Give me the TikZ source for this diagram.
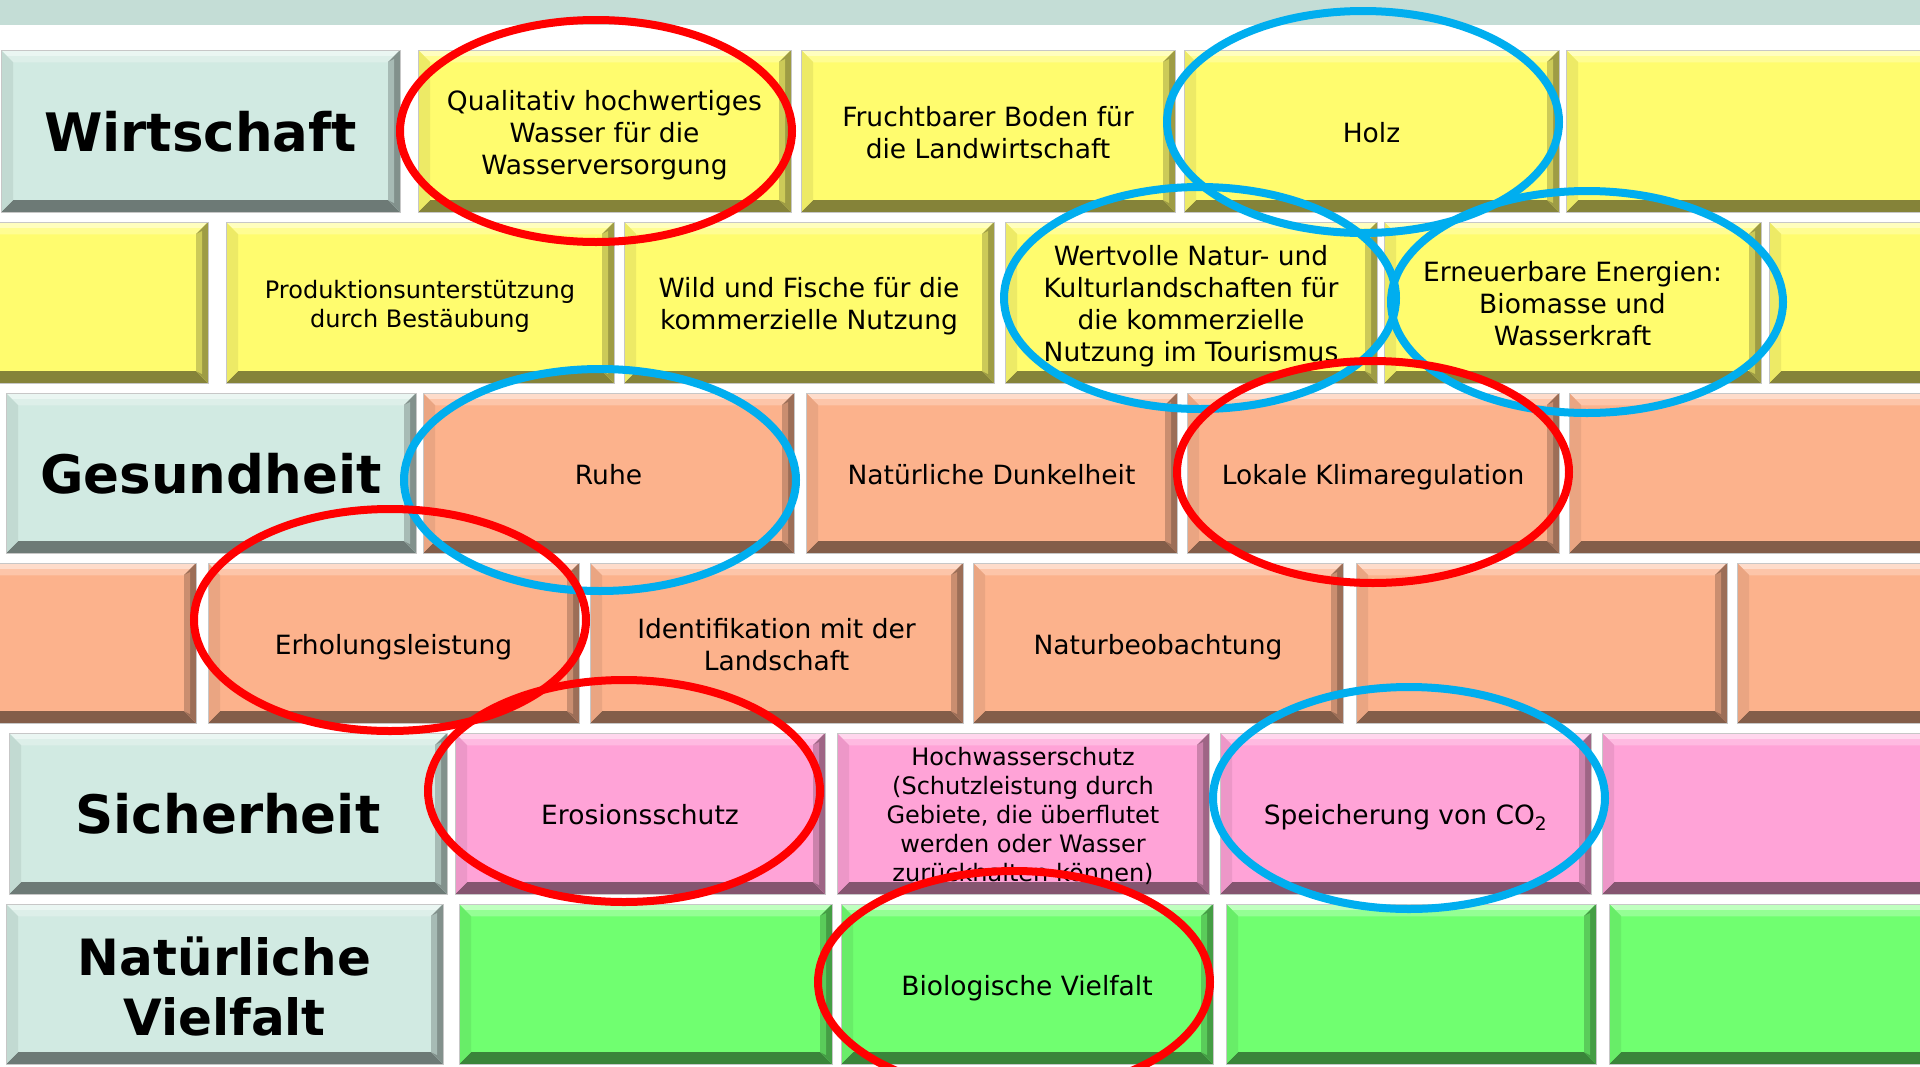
\documentclass[tikz,border=0pt]{standalone}
\usepackage{fontspec}
\setmainfont{DejaVu Sans}
\usetikzlibrary{shapes.geometric}
\definecolor{cyel}{HTML}{FFFC6E}
\definecolor{csal}{HTML}{FCB28C}
\definecolor{cpink}{HTML}{FFA3D7}
\definecolor{cgrn}{HTML}{70FF70}
\definecolor{cmint}{HTML}{D1EAE2}
\definecolor{cband}{HTML}{C4DDD6}
\definecolor{cred}{HTML}{FF0000}
\definecolor{cblue}{HTML}{00AEEF}
% name, brick style, text style, x1, x2, y1, y2, text
\newcommand\brk[8]{%
  \node[#2, minimum width={(#5-#4)*1pt}, minimum height={(#7-#6)*1pt}] (#1) at ({(#4+#5)/2},{(#6+#7)/2}) {};
  \node[#3] (#1t) at (#1.center) {\strut#8\strut};}
\tikzset{
  brick/.style={fill=#1, draw=black!22, line width=1pt, inner sep=0pt, outer sep=0pt,
    path picture={
      \fill[#1!45!white] (path picture bounding box.north west) -- (path picture bounding box.north east)
        -- ([shift={(-12pt,-12pt)}]path picture bounding box.north east) -- ([shift={(12pt,-12pt)}]path picture bounding box.north west) -- cycle;
      \fill[#1!75!white] ([shift={(0pt,-6pt)}]path picture bounding box.north west) -- ([shift={(0pt,-6pt)}]path picture bounding box.north east)
        -- ([shift={(-12pt,-12pt)}]path picture bounding box.north east) -- ([shift={(12pt,-12pt)}]path picture bounding box.north west) -- cycle;
      \fill[#1!52!black] (path picture bounding box.south west) -- (path picture bounding box.south east)
        -- ([shift={(-12pt,12pt)}]path picture bounding box.south east) -- ([shift={(12pt,12pt)}]path picture bounding box.south west) -- cycle;
      \fill[#1!93!black] (path picture bounding box.north west) -- (path picture bounding box.south west)
        -- ([shift={(12pt,12pt)}]path picture bounding box.south west) -- ([shift={(12pt,-12pt)}]path picture bounding box.north west) -- cycle;
      \fill[#1!62!black] (path picture bounding box.north east) -- (path picture bounding box.south east)
        -- ([shift={(-12pt,12pt)}]path picture bounding box.south east) -- ([shift={(-12pt,-12pt)}]path picture bounding box.north east) -- cycle;
      \fill[#1!80!black] ([shift={(-6pt,-9pt)}]path picture bounding box.north east) -- ([shift={(-6pt,9pt)}]path picture bounding box.south east)
        -- ([shift={(-12pt,12pt)}]path picture bounding box.south east) -- ([shift={(-12pt,-12pt)}]path picture bounding box.north east) -- cycle;
    }},
  ylw/.style={brick=cyel}, sal/.style={brick=csal}, pnk/.style={brick=cpink}, grn/.style={brick=cgrn}, mnt/.style={brick=cmint},
  bodytxt/.style={align=center, text=black, inner sep=0pt, yshift=-5pt, font=\fontsize{26.5}{32}\selectfont},
  smalltxt/.style={align=center, text=black, inner sep=0pt, yshift=-4.5pt, font=\fontsize{24}{29}\selectfont},
  labtxt/.style={align=center, text=black, inner sep=0pt, yshift=-8pt, font=\bfseries\fontsize{53}{60}\selectfont},
  labtxts/.style={align=center, text=black, inner sep=0pt, yshift=-9pt, font=\bfseries\fontsize{50}{60}\selectfont},
  ring/.style={ellipse, draw=#1, line width=8pt, minimum width=392pt, minimum height=222pt, inner sep=0pt, outer sep=0pt},
}
\begin{document}
\begin{tikzpicture}[x=1pt,y=-1pt]
\useasboundingbox (0,0) rectangle (1920,1066);
\clip (0,0) rectangle (1920,1066);
\fill[white] (0,0) rectangle (1920,1066);
\fill[cband] (0,0) rectangle (1920,25);
% Row 1
\brk{lab1}{mnt}{labtxt}{1}{400}{50}{212}{Wirtschaft}
\brk{w1}{ylw}{bodytxt}{418}{791}{50}{212}{Qualitativ hochwertiges\\Wasser für die\\Wasserversorgung}
\brk{w2}{ylw}{bodytxt}{801}{1175}{50}{212}{Fruchtbarer Boden für\\die Landwirtschaft}
\brk{w3}{ylw}{bodytxt}{1184}{1559}{50}{212}{Holz}
\brk{w4}{ylw}{bodytxt}{1566}{1940}{50}{212}{}
% Row 2
\brk{w5}{ylw}{bodytxt}{-170}{208}{222}{383}{}
\brk{w6}{ylw}{smalltxt}{226}{614}{222}{383}{Produktionsunterstützung\\durch Bestäubung}
\brk{w7}{ylw}{bodytxt}{624}{994}{222}{383}{Wild und Fische für die\\kommerzielle Nutzung}
\brk{w8}{ylw}{bodytxt}{1005}{1377}{222}{383}{Wertvolle Natur- und\\Kulturlandschaften für\\die kommerzielle\\Nutzung im Tourismus}
\brk{w9}{ylw}{bodytxt}{1384}{1761}{222}{383}{Erneuerbare Energien:\\Biomasse und\\Wasserkraft}
\brk{w10}{ylw}{bodytxt}{1769}{2140}{222}{383}{}
% Row 3
\brk{lab2}{mnt}{labtxt}{6}{416}{393}{553}{Gesundheit}
\brk{g1}{sal}{bodytxt}{423}{794}{393}{553}{Ruhe}
\brk{g2}{sal}{bodytxt}{806}{1177}{393}{553}{Natürliche Dunkelheit}
\brk{g3}{sal}{bodytxt}{1187}{1559}{393}{553}{Lokale Klimaregulation}
\brk{g4}{sal}{bodytxt}{1569}{1940}{393}{553}{}
% Row 4
\brk{g5}{sal}{bodytxt}{-180}{196}{563}{723}{}
\brk{g6}{sal}{bodytxt}{208}{579}{563}{723}{Erholungsleistung}
\brk{g7}{sal}{bodytxt}{590}{963}{563}{723}{Identifikation mit der\\Landschaft}
\brk{g8}{sal}{bodytxt}{973}{1343}{563}{723}{Naturbeobachtung}
\brk{g9}{sal}{bodytxt}{1356}{1727}{563}{723}{}
\brk{g10}{sal}{bodytxt}{1737}{2110}{563}{723}{}
% Row 5
\brk{lab3}{mnt}{labtxt}{9}{447}{733}{894}{Sicherheit}
\brk{s1}{pnk}{bodytxt}{455}{825}{733}{894}{Erosionsschutz}
\brk{s2}{pnk}{smalltxt}{837}{1209}{733}{894}{Hochwasserschutz\\(Schutzleistung durch\\Gebiete, die überflutet\\werden oder Wasser\\zurückhalten können)}
\brk{s3}{pnk}{bodytxt}{1220}{1591}{733}{894}{Speicherung von CO\textsubscript{2}}
\brk{s4}{pnk}{bodytxt}{1602}{1975}{733}{894}{}
% Row 6
\brk{lab4}{mnt}{labtxts}{6}{443}{904}{1064}{Natürliche\\Vielfalt}
\brk{n1}{grn}{bodytxt}{459}{832}{904}{1064}{}
\brk{n2}{grn}{bodytxt}{841}{1213}{904}{1064}{Biologische Vielfalt}
\brk{n3}{grn}{bodytxt}{1226}{1596}{904}{1064}{}
\brk{n4}{grn}{bodytxt}{1609}{1980}{904}{1064}{}
% Rings
\node[ring=cred] (r1) at (596,131) {};
\node[ring=cblue] (b1) at (1363,122) {};
\node[ring=cblue] (b2) at (1200,298) {};
\node[ring=cblue] (b3) at (1587,302) {};
\node[ring=cred] (r2) at (1373,472) {};
\node[ring=cblue] (b4) at (600,480) {};
\node[ring=cred] (r3) at (390,620) {};
\node[ring=cred] (r4) at (624,791) {};
\node[ring=cblue] (b5) at (1409,798) {};
\node[ring=cred] (r5) at (1014,982) {};
\end{tikzpicture}
\end{document}
